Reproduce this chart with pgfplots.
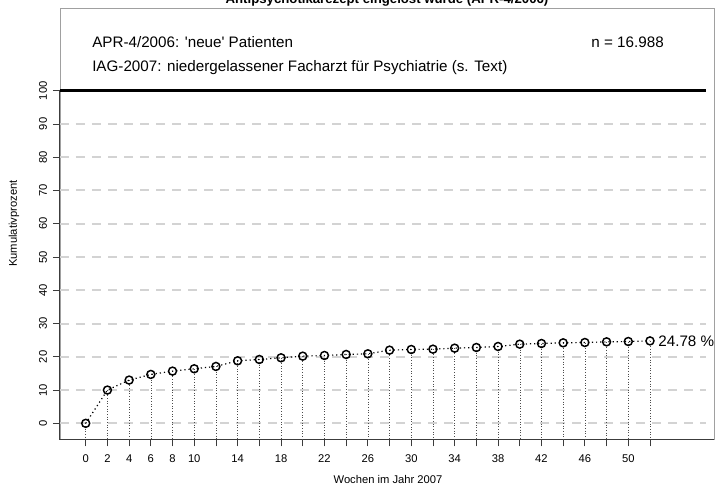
\documentclass[border=0pt]{standalone}
\usepackage{fontspec}
\setmainfont{Liberation Sans}
\usepackage{pgfplots}
\pgfplotsset{compat=1.18}
\usepackage{pgfplotstable}

% cumulative percentage per week
\pgfplotstableread{
woche kum
0 0.0
2 10.0
4 13.0
6 14.7
8 15.7
10 16.4
12 17.1
14 18.8
16 19.2
18 19.7
20 20.2
22 20.4
24 20.7
26 20.9
28 22.0
30 22.2
32 22.3
34 22.6
36 22.8
38 23.1
40 23.8
42 24.0
44 24.2
46 24.3
48 24.5
50 24.6
52 24.78
}\kumdaten

\definecolor{gridgrau}{RGB}{211,211,211}
\definecolor{rahmen}{RGB}{160,160,160}
\definecolor{achse}{RGB}{60,60,60}

\newcommand\klein{\fontsize{8.4}{10}\selectfont}
\newcommand\gross{\fontsize{11.4}{13.5}\selectfont}
\newcommand\titel{\fontsize{9.9}{12}\selectfont\bfseries}

\begin{document}
\begin{tikzpicture}[x=0.75pt,y=0.75pt]
\useasboundingbox (0,0) rectangle (715,492);
\begin{axis}[
  at={(45pt,39.525pt)}, anchor=south west,
  scale only axis, width=490.5pt, height=323.3pt,
  xmin=-2.37, xmax=57.9, ymin=-4.8, ymax=124.8,
  axis line style={draw=rahmen, line width=0.5pt},
  xtick={0,2,...,52},
  xticklabels={0,2,4,6,8,10,,14,,18,,22,,26,,30,,34,,38,,42,,46,,50,},
  ytick={0,10,...,100},
  xtick pos=bottom, ytick pos=left,
  tick align=outside, major tick length=5.25pt,
  every tick/.style={achse, line width=0.6pt},
  tick label style={font=\klein},
  /pgf/number format/assume math mode=true,
  xticklabel style={anchor=center, yshift=-9.5pt},
  % rotated labels: a positive yshift moves them away from the axis
  yticklabel style={rotate=90, anchor=center, yshift=7.5pt},
  clip=false,
]
% reference lines
\pgfplotsinvokeforeach{0,10,...,90}{
  \draw[gridgrau, line width=1.5pt, dash pattern=on 7pt off 5pt]
    (axis cs:-2.37,#1) -- (axis cs:57.2,#1);
}
\draw[black, line width=1.9pt] (axis cs:-2.37,100) -- (axis cs:57.2,100);
\draw[achse, line width=0.75pt] (axis cs:-2.37,100) -- (axis cs:-2.37,-4.8) -- (axis cs:57.9,-4.8);

% drop lines to the axis
\addplot[draw=none, mark=none,
  error bars/.cd, y dir=minus, y explicit, error mark=none,
  error bar style={draw=black!70, line width=0.4pt, dash pattern=on 0.7pt off 1.3pt}]
  table[x=woche, y=kum, y error expr=\thisrow{kum}+4.8] {\kumdaten};

% cumulative curve
\addplot[black, line width=0.9pt, dash pattern=on 0.9pt off 2.2pt,
  mark=o, mark size=3pt, mark options={solid, line width=1.1pt}]
  table[x=woche, y=kum] {\kumdaten};

\node[anchor=west, inner sep=0, font=\gross] at (axis cs:52.75,24.78) {24.78 \%};
\end{axis}

\node[anchor=base, font=\titel] at (387,488) {Antipsychotikarezept eingelöst wurde (APR-4/2006)};
\node[anchor=west, inner sep=0, font=\gross] at (92,450) {APR-4/2006: \textquotesingle neue\textquotesingle\ Patienten};
\node[anchor=east, inner sep=0, font=\gross] at (664,450) {n = 16.988};
\node[anchor=west, inner sep=0, font=\gross] at (92,424) {IAG-2007: niedergelassener Facharzt für Psychiatrie (s. Text)};
\node[font=\klein] at (388,12) {Wochen im Jahr 2007};
\node[font=\klein, rotate=90] at (14,268.5) {Kumulativprozent};
\end{tikzpicture}
\end{document}
